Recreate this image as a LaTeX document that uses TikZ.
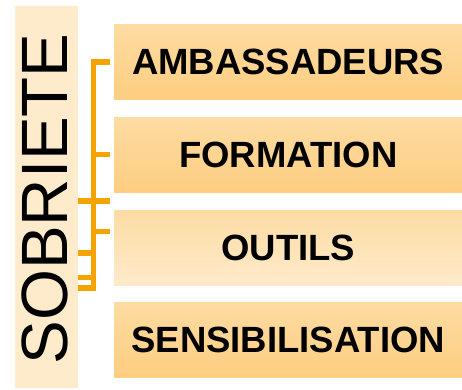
\documentclass[tikz,border=0pt]{standalone}
\usepackage{fontspec}
\setmainfont{Liberation Sans}
\definecolor{sobfill}{HTML}{FEEBCB}
\definecolor{boxtop}{HTML}{FDDCA3}
\definecolor{boxbot}{HTML}{FDCD80}
\definecolor{boxlight}{HTML}{FEEACB}
\definecolor{conn}{HTML}{F4A300}
\tikzset{
  itembox/.style={rectangle, inner sep=0pt, minimum width=348pt, minimum height=75.5pt,
    anchor=north west, top color=boxtop, bottom color=boxbot,
    font=\bfseries\fontsize{36.5}{40}\selectfont},
  itemboxlight/.style={itembox, top color=boxtop, bottom color=boxlight},
  connline/.style={draw=conn, line width=5.3pt, miter limit=10}
}
\begin{document}
\begin{tikzpicture}[x=1pt,y=-1pt]
\useasboundingbox (0,0) rectangle (462,389);
% left title box
\node[rectangle, fill=sobfill, inner sep=0pt, minimum width=63pt, minimum height=382pt, anchor=north west] (sob) at (15,6) {};
\node[rotate=90, anchor=base, inner sep=0pt, font=\fontsize{65.5}{70}\selectfont] (sobtxt) at (67,199) {SOBRIETE};
% item boxes
\node[itembox] (b1) at (114,24) {AMBASSADEURS};
\node[itembox] (b2) at (114,117) {FORMATION};
\node[itemboxlight] (b3) at (114,210) {OUTILS};
\node[itembox] (b4) at (114,302) {SENSIBILISATION};
% connector spine
\coordinate (spine) at (93.3,0);
\coordinate (gap) at ([xshift=-4pt]b1.west);
\draw[connline] (gap |- 0,62) -| (spine |- 0,288) -- (sob.east |- 0,288);
\draw[connline] (gap |- 0,154.5) -- (spine |- 0,154.5);
\draw[connline] (sob.east |- 0,201) -- (gap |- 0,201);
\draw[connline] (spine |- 0,231.3) -- (gap |- 0,231.3);
\draw[connline] (sob.east |- 0,253) -- (spine |- 0,253);
\draw[connline] (sob.east |- 0,277.5) -- (spine |- 0,277.5);
\end{tikzpicture}
\end{document}
